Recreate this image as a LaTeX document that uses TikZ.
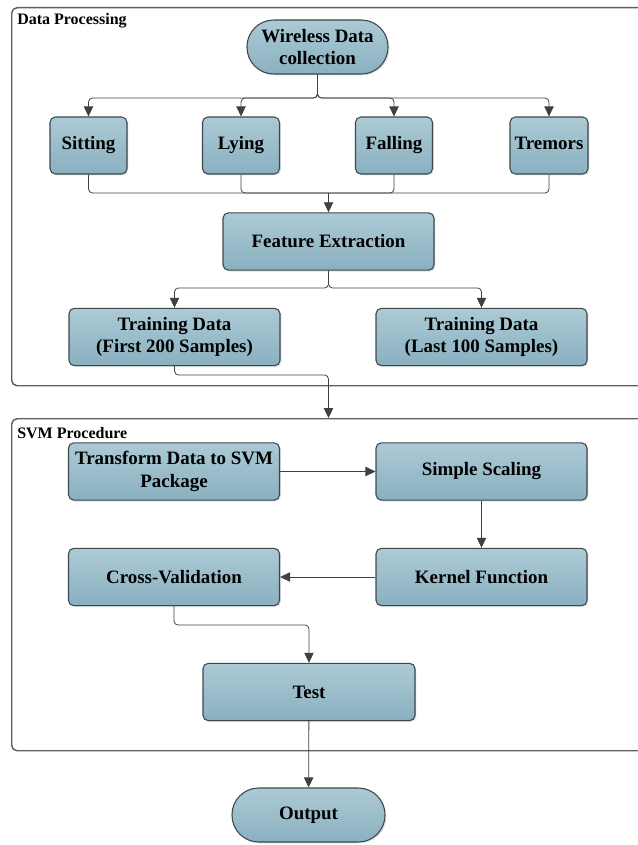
\documentclass[tikz,border=0pt]{standalone}
\usepackage{fontspec}
\setmainfont{Liberation Serif}
\usetikzlibrary{arrows.meta,positioning,shadows}

\definecolor{boxtop}{RGB}{172,202,213}
\definecolor{boxbot}{RGB}{138,176,192}
\definecolor{boxline}{RGB}{60,72,78}
\definecolor{connline}{RGB}{64,64,64}
\definecolor{frameline}{RGB}{95,95,95}

\tikzset{
  stepbox/.style={draw=boxline, line width=0.8pt, rounded corners=4pt,
    top color=boxtop, bottom color=boxbot, align=center, inner sep=2pt,
    font=\fontsize{14.2}{17}\selectfont\bfseries,
    drop shadow={opacity=0.25, shadow xshift=1pt, shadow yshift=-1pt}},
  smallbox/.style={stepbox, minimum width=57.75pt, minimum height=42.75pt,
    text height=9.5pt, text depth=3pt},
  widebox/.style={stepbox, minimum width=158.25pt, minimum height=43pt},
  endbox/.style={stepbox, rounded corners=20pt, minimum height=40.5pt},
  frame/.style={draw=frameline, line width=1.1pt, rounded corners=4pt,
    anchor=north west, inner sep=0pt, minimum width=479.25pt},
  framelabel/.style={anchor=west, inner sep=0pt,
    font=\fontsize{12}{14}\selectfont\bfseries},
  conn/.style={draw=connline, line width=0.6pt, rounded corners=3pt},
  arr/.style={conn, -{Triangle[length=7.5pt,width=7pt]}}
}

\begin{document}
\begin{tikzpicture}[x=0.75pt,y=-0.75pt]
  \useasboundingbox (0,0) rectangle (637,845);

  % the two group frames
  \node[frame, minimum height=283.5pt] (dpframe) at (11,7) {};
  \node[framelabel] (dplabel) at (17,21) {Data Processing};
  \node[frame, minimum height=249pt] (svmframe) at (11,418) {};
  \node[framelabel] (svmlabel) at (17,433) {SVM Procedure};

  % data processing
  \node[endbox, minimum width=105.75pt] (wireless) at (317.5,47) {Wireless Data\\collection};
  \node[smallbox] (sitting) at (88.5,145.5) {Sitting};
  \node[smallbox] (lying) at (241,145.5) {Lying};
  \node[smallbox] (falling) at (394,145.5) {Falling};
  \node[smallbox, minimum width=58.5pt] (tremors) at (549,145.5) {Tremors};
  \node[widebox] (feature) at (328.5,241.5) {Feature Extraction};
  \node[widebox] (trainA) at (174.5,337) {Training Data\\(First 200 Samples)};
  \node[widebox] (trainB) at (481.5,337) {Training Data\\(Last 100 Samples)};

  % svm procedure
  \node[widebox] (transform) at (174,471.5) {Transform Data to SVM\\Package};
  \node[widebox] (scaling) at (481.5,471.5) {Simple Scaling};
  \node[widebox] (kernel) at (481.5,577) {Kernel Function};
  \node[widebox] (crossval) at (174,577) {Cross-Validation};
  \node[widebox, minimum width=159pt] (test) at (309,692) {Test};
  \node[endbox, minimum width=114.75pt] (output) at (308.5,815) {Output};

  % junction points
  \coordinate (split) at (317.5,98);
  \coordinate (merge) at (328.5,193);
  \coordinate (fsplit) at (328.5,288);
  \coordinate (drop) at (328.5,375);
  \coordinate (cvjoin) at (309,625);

  % connectors
  \draw[arr] (wireless.south) -- (split) -| (sitting);
  \draw[arr] (wireless.south) -- (split) -| (lying);
  \draw[arr] (wireless.south) -- (split) -| (falling);
  \draw[arr] (wireless.south) -- (split) -| (tremors);
  \draw[conn] (sitting.south) |- (merge);
  \draw[conn] (lying.south) |- (merge);
  \draw[conn] (falling.south) |- (merge);
  \draw[conn] (tremors.south) |- (merge);
  \draw[arr] (merge) -- (feature.north);
  \draw[arr] (feature.south) -- (fsplit) -| (trainA);
  \draw[arr] (feature.south) -- (fsplit) -| (trainB);
  \draw[arr] (trainA.south) |- (drop) -- (drop |- svmframe.north);
  \draw[arr] (transform) -- (scaling);
  \draw[arr] (scaling) -- (kernel);
  \draw[arr] (kernel) -- (crossval);
  \draw[arr] (crossval.south) |- (cvjoin) -- (test);
  \draw[arr] (test) -- (output);
\end{tikzpicture}
\end{document}
